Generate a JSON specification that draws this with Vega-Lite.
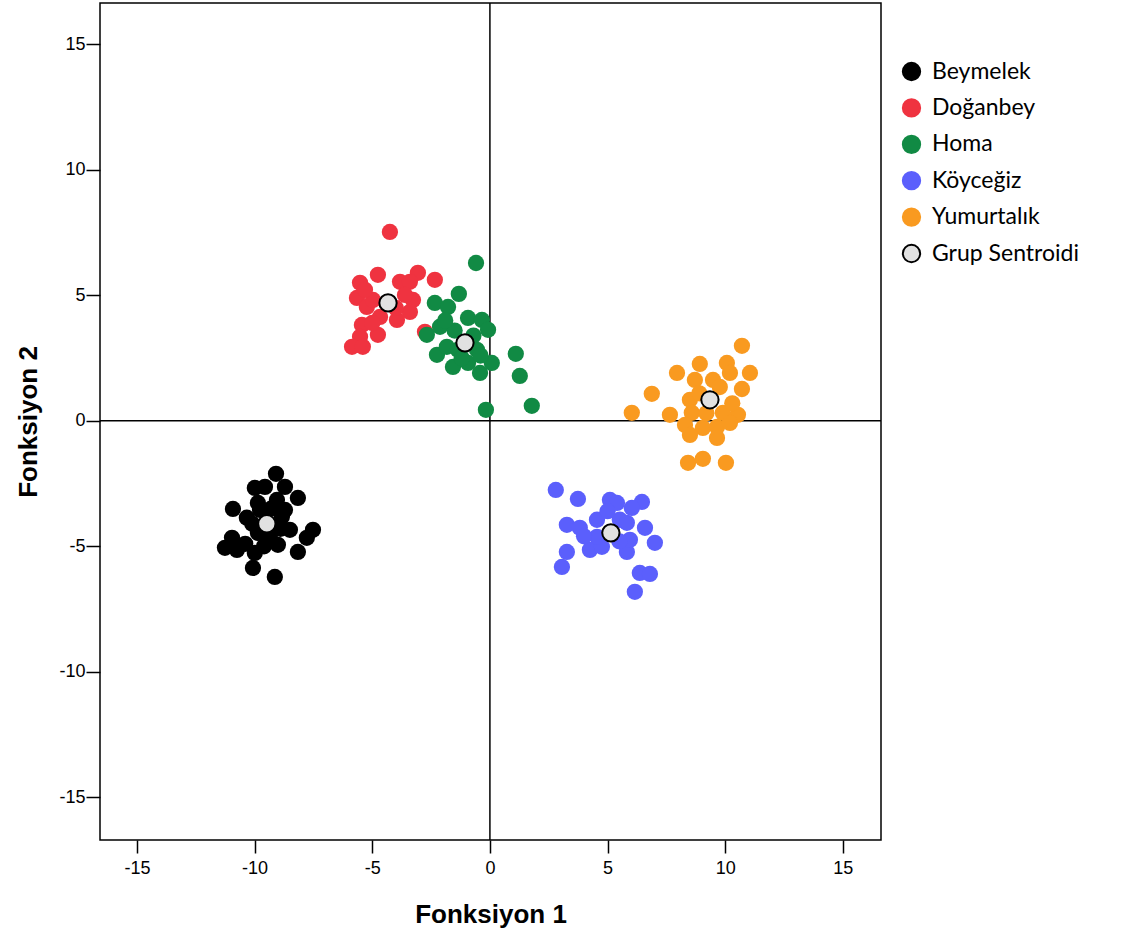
{
  "$schema": "https://vega.github.io/schema/vega-lite/v6.json",
  "width": 781,
  "height": 837,
  "autosize": {"type": "none"},
  "padding": {"left": 100, "top": 3, "right": 243, "bottom": 103},
  "background": "white",
  "config": {
    "view": {"stroke": "black", "strokeWidth": 1.5},
    "axis": {"grid": false, "domain": false, "tickColor": "black", "tickWidth": 1.5,
      "labelFont": "Liberation Sans", "labelFontSize": 18, "labelColor": "black",
      "titleFont": "Liberation Sans", "titleFontSize": 26, "titleFontWeight": "bold", "titleColor": "black"}
  },
  "datasets": {
    "pts": [
      {"grp": "Beymelek", "f1": -9.09, "f2": -2.11},
      {"grp": "Beymelek", "f1": -9.99, "f2": -2.67},
      {"grp": "Beymelek", "f1": -9.56, "f2": -2.63},
      {"grp": "Beymelek", "f1": -8.71, "f2": -2.63},
      {"grp": "Beymelek", "f1": -8.16, "f2": -3.07},
      {"grp": "Beymelek", "f1": -10.92, "f2": -3.51},
      {"grp": "Beymelek", "f1": -10.33, "f2": -3.86},
      {"grp": "Beymelek", "f1": -9.86, "f2": -3.27},
      {"grp": "Beymelek", "f1": -9.05, "f2": -3.15},
      {"grp": "Beymelek", "f1": -8.71, "f2": -3.55},
      {"grp": "Beymelek", "f1": -8.5, "f2": -4.34},
      {"grp": "Beymelek", "f1": -7.52, "f2": -4.34},
      {"grp": "Beymelek", "f1": -7.78, "f2": -4.66},
      {"grp": "Beymelek", "f1": -9.86, "f2": -4.46},
      {"grp": "Beymelek", "f1": -10.96, "f2": -4.66},
      {"grp": "Beymelek", "f1": -11.26, "f2": -5.06},
      {"grp": "Beymelek", "f1": -10.75, "f2": -5.14},
      {"grp": "Beymelek", "f1": -9.99, "f2": -5.26},
      {"grp": "Beymelek", "f1": -10.07, "f2": -5.86},
      {"grp": "Beymelek", "f1": -9.01, "f2": -4.94},
      {"grp": "Beymelek", "f1": -8.16, "f2": -5.22},
      {"grp": "Beymelek", "f1": -9.14, "f2": -6.22},
      {"grp": "Beymelek", "f1": -9.35, "f2": -4.66},
      {"grp": "Beymelek", "f1": -8.84, "f2": -3.82},
      {"grp": "Beymelek", "f1": -9.77, "f2": -3.55},
      {"grp": "Beymelek", "f1": -10.4, "f2": -4.9},
      {"grp": "Beymelek", "f1": -9.3, "f2": -3.5},
      {"grp": "Beymelek", "f1": -10.1, "f2": -4.1},
      {"grp": "Beymelek", "f1": -8.9, "f2": -4.3},
      {"grp": "Beymelek", "f1": -9.6, "f2": -5.0},
      {"grp": "Doğanbey", "f1": -4.25, "f2": 7.53},
      {"grp": "Doğanbey", "f1": -5.52, "f2": 5.5},
      {"grp": "Doğanbey", "f1": -4.76, "f2": 5.82},
      {"grp": "Doğanbey", "f1": -5.65, "f2": 4.9},
      {"grp": "Doğanbey", "f1": -3.82, "f2": 5.54},
      {"grp": "Doğanbey", "f1": -3.06, "f2": 5.9},
      {"grp": "Doğanbey", "f1": -2.34, "f2": 5.62},
      {"grp": "Doğanbey", "f1": -3.4, "f2": 5.54},
      {"grp": "Doğanbey", "f1": -3.27, "f2": 4.82},
      {"grp": "Doğanbey", "f1": -3.4, "f2": 4.34},
      {"grp": "Doğanbey", "f1": -3.95, "f2": 4.02},
      {"grp": "Doğanbey", "f1": -5.23, "f2": 4.54},
      {"grp": "Doğanbey", "f1": -4.97, "f2": 4.82},
      {"grp": "Doğanbey", "f1": -5.44, "f2": 3.82},
      {"grp": "Doğanbey", "f1": -5.52, "f2": 3.35},
      {"grp": "Doğanbey", "f1": -4.76, "f2": 3.43},
      {"grp": "Doğanbey", "f1": -5.86, "f2": 2.95},
      {"grp": "Doğanbey", "f1": -5.4, "f2": 2.95},
      {"grp": "Doğanbey", "f1": -2.76, "f2": 3.55},
      {"grp": "Doğanbey", "f1": -3.61, "f2": 5.02},
      {"grp": "Doğanbey", "f1": -5.31, "f2": 5.22},
      {"grp": "Doğanbey", "f1": -4.67, "f2": 4.14},
      {"grp": "Doğanbey", "f1": -4.0, "f2": 4.5},
      {"grp": "Doğanbey", "f1": -5.0, "f2": 3.9},
      {"grp": "Homa", "f1": -0.59, "f2": 6.29},
      {"grp": "Homa", "f1": -1.32, "f2": 5.06},
      {"grp": "Homa", "f1": -2.34, "f2": 4.7},
      {"grp": "Homa", "f1": -1.78, "f2": 4.54},
      {"grp": "Homa", "f1": -0.93, "f2": 4.1},
      {"grp": "Homa", "f1": -0.34, "f2": 4.02},
      {"grp": "Homa", "f1": -0.08, "f2": 3.63},
      {"grp": "Homa", "f1": -2.68, "f2": 3.43},
      {"grp": "Homa", "f1": -2.12, "f2": 3.75},
      {"grp": "Homa", "f1": -2.25, "f2": 2.63},
      {"grp": "Homa", "f1": -1.57, "f2": 2.15},
      {"grp": "Homa", "f1": -0.93, "f2": 2.31},
      {"grp": "Homa", "f1": -0.42, "f2": 1.91},
      {"grp": "Homa", "f1": 0.08, "f2": 2.31},
      {"grp": "Homa", "f1": -1.83, "f2": 2.95},
      {"grp": "Homa", "f1": -0.55, "f2": 2.83},
      {"grp": "Homa", "f1": 1.1, "f2": 2.67},
      {"grp": "Homa", "f1": 1.27, "f2": 1.79},
      {"grp": "Homa", "f1": 1.78, "f2": 0.6},
      {"grp": "Homa", "f1": -0.17, "f2": 0.44},
      {"grp": "Homa", "f1": -1.36, "f2": 2.83},
      {"grp": "Homa", "f1": -1.5, "f2": 3.6},
      {"grp": "Homa", "f1": -0.7, "f2": 3.4},
      {"grp": "Homa", "f1": -1.9, "f2": 4.0},
      {"grp": "Homa", "f1": -1.2, "f2": 2.5},
      {"grp": "Homa", "f1": -0.4, "f2": 2.6},
      {"grp": "Köyceğiz", "f1": 2.8, "f2": -2.75},
      {"grp": "Köyceğiz", "f1": 3.74, "f2": -3.11},
      {"grp": "Köyceğiz", "f1": 5.1, "f2": -3.15},
      {"grp": "Köyceğiz", "f1": 5.4, "f2": -3.27},
      {"grp": "Köyceğiz", "f1": 6.46, "f2": -3.23},
      {"grp": "Köyceğiz", "f1": 6.03, "f2": -3.47},
      {"grp": "Köyceğiz", "f1": 3.27, "f2": -4.14},
      {"grp": "Köyceğiz", "f1": 3.82, "f2": -4.26},
      {"grp": "Köyceğiz", "f1": 4.55, "f2": -3.94},
      {"grp": "Köyceğiz", "f1": 6.59, "f2": -4.26},
      {"grp": "Köyceğiz", "f1": 7.01, "f2": -4.86},
      {"grp": "Köyceğiz", "f1": 4.25, "f2": -5.14},
      {"grp": "Köyceğiz", "f1": 4.76, "f2": -5.02},
      {"grp": "Köyceğiz", "f1": 5.82, "f2": -5.22},
      {"grp": "Köyceğiz", "f1": 5.95, "f2": -4.74},
      {"grp": "Köyceğiz", "f1": 3.27, "f2": -5.22},
      {"grp": "Köyceğiz", "f1": 3.06, "f2": -5.82},
      {"grp": "Köyceğiz", "f1": 6.37, "f2": -6.06},
      {"grp": "Köyceğiz", "f1": 6.8, "f2": -6.1},
      {"grp": "Köyceğiz", "f1": 6.16, "f2": -6.81},
      {"grp": "Köyceğiz", "f1": 5.52, "f2": -3.94},
      {"grp": "Köyceğiz", "f1": 4.55, "f2": -4.62},
      {"grp": "Köyceğiz", "f1": 5.82, "f2": -4.06},
      {"grp": "Köyceğiz", "f1": 5.0, "f2": -3.6},
      {"grp": "Köyceğiz", "f1": 4.0, "f2": -4.6},
      {"grp": "Köyceğiz", "f1": 5.5, "f2": -4.8},
      {"grp": "Yumurtalık", "f1": 10.71, "f2": 2.99},
      {"grp": "Yumurtalık", "f1": 8.92, "f2": 2.27},
      {"grp": "Yumurtalık", "f1": 10.07, "f2": 2.31},
      {"grp": "Yumurtalık", "f1": 11.05, "f2": 1.91},
      {"grp": "Yumurtalık", "f1": 7.95, "f2": 1.91},
      {"grp": "Yumurtalık", "f1": 8.71, "f2": 1.63},
      {"grp": "Yumurtalık", "f1": 9.48, "f2": 1.63},
      {"grp": "Yumurtalık", "f1": 10.71, "f2": 1.27},
      {"grp": "Yumurtalık", "f1": 6.88, "f2": 1.08},
      {"grp": "Yumurtalık", "f1": 8.5, "f2": 0.84},
      {"grp": "Yumurtalık", "f1": 6.03, "f2": 0.32},
      {"grp": "Yumurtalık", "f1": 7.65, "f2": 0.24},
      {"grp": "Yumurtalık", "f1": 8.58, "f2": 0.32},
      {"grp": "Yumurtalık", "f1": 9.9, "f2": 0.32},
      {"grp": "Yumurtalık", "f1": 10.54, "f2": 0.24},
      {"grp": "Yumurtalık", "f1": 8.29, "f2": -0.16},
      {"grp": "Yumurtalık", "f1": 9.05, "f2": -0.28},
      {"grp": "Yumurtalık", "f1": 9.65, "f2": -0.24},
      {"grp": "Yumurtalık", "f1": 10.2, "f2": -0.08},
      {"grp": "Yumurtalık", "f1": 8.5, "f2": -0.56},
      {"grp": "Yumurtalık", "f1": 9.65, "f2": -0.68},
      {"grp": "Yumurtalık", "f1": 8.42, "f2": -1.67},
      {"grp": "Yumurtalık", "f1": 9.05, "f2": -1.51},
      {"grp": "Yumurtalık", "f1": 10.03, "f2": -1.67},
      {"grp": "Yumurtalık", "f1": 10.2, "f2": 1.91},
      {"grp": "Yumurtalık", "f1": 9.77, "f2": 1.35},
      {"grp": "Yumurtalık", "f1": 8.9, "f2": 1.1},
      {"grp": "Yumurtalık", "f1": 10.3, "f2": 0.7},
      {"grp": "Yumurtalık", "f1": 9.2, "f2": 0.3},
      {"grp": "Grup Sentroidi", "f1": -9.48, "f2": -4.1},
      {"grp": "Grup Sentroidi", "f1": -4.33, "f2": 4.7},
      {"grp": "Grup Sentroidi", "f1": -1.06, "f2": 3.11},
      {"grp": "Grup Sentroidi", "f1": 5.14, "f2": -4.46},
      {"grp": "Grup Sentroidi", "f1": 9.35, "f2": 0.84}
    ]
  },
  "layer": [
    {
      "data": {"values": [{"v": 0}]},
      "mark": {"type": "rule", "color": "black", "strokeWidth": 1.5},
      "encoding": {"x": {"field": "v", "type": "quantitative"}}
    },
    {
      "data": {"values": [{"v": 0}]},
      "mark": {"type": "rule", "color": "black", "strokeWidth": 1.5},
      "encoding": {"y": {"field": "v", "type": "quantitative"}}
    },
    {
      "data": {"name": "pts"},
      "transform": [{"filter": "datum.grp !== 'Grup Sentroidi'"}],
      "mark": {"type": "point", "shape": "circle", "filled": true, "size": 265, "opacity": 1, "strokeWidth": 0},
      "encoding": {
        "x": {"field": "f1", "type": "quantitative"},
        "y": {"field": "f2", "type": "quantitative"},
        "fill": {"field": "grp", "type": "nominal"},
        "stroke": {"field": "grp", "type": "nominal"}
      }
    },
    {
      "data": {"name": "pts"},
      "transform": [{"filter": "datum.grp === 'Grup Sentroidi'"}],
      "mark": {"type": "point", "shape": "circle", "filled": true, "size": 300, "opacity": 1, "strokeWidth": 2},
      "encoding": {
        "x": {"field": "f1", "type": "quantitative", "title": "Fonksiyon 1",
          "scale": {"domain": [-16.57, 16.62], "nice": false, "zero": false},
          "axis": {"values": [-15, -10, -5, 0, 5, 10, 15], "labelExpr": "toString(datum.value)", "tickSize": 13, "labelPadding": 6, "titlePadding": 24}},
        "y": {"field": "f2", "type": "quantitative", "title": "Fonksiyon 2",
          "scale": {"domain": [-16.7, 16.65], "nice": false, "zero": false},
          "axis": {"values": [-15, -10, -5, 0, 5, 10, 15], "labelExpr": "toString(datum.value)", "tickSize": 14, "labelPadding": 1, "titlePadding": 17}},
        "fill": {"field": "grp", "type": "nominal",
          "scale": {"domain": ["Beymelek", "Doğanbey", "Homa", "Köyceğiz", "Yumurtalık", "Grup Sentroidi"],
            "range": ["#000000", "#ef3340", "#118a44", "#5b5ffc", "#f99a20", "#e1e1e1"]},
          "legend": {"title": null, "orient": "none", "legendX": 800, "legendY": 57,
            "labelFont": "Lato", "labelFontSize": 23, "labelColor": "black", "symbolSize": 300,
            "symbolStrokeWidth": 2, "rowPadding": 9.4, "labelOffset": 9}},
        "stroke": {"field": "grp", "type": "nominal",
          "scale": {"domain": ["Beymelek", "Doğanbey", "Homa", "Köyceğiz", "Yumurtalık", "Grup Sentroidi"],
            "range": ["#000000", "#ef3340", "#118a44", "#5b5ffc", "#f99a20", "#000000"]}}
      }
    }
  ]
}
